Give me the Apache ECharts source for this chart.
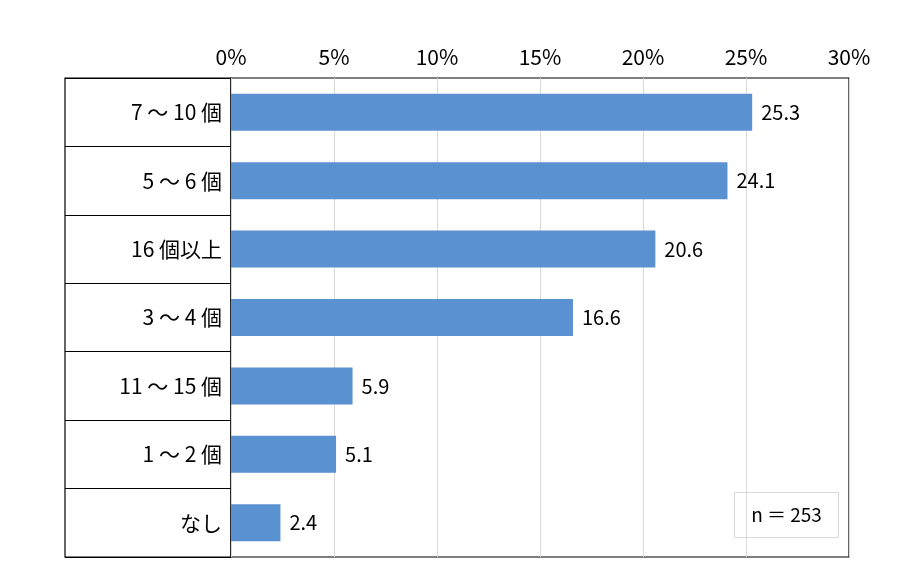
<!DOCTYPE html>
<html>
<head>
<meta charset="utf-8">
<script src="https://cdn.jsdelivr.net/npm/echarts@6/dist/echarts.min.js"></script>
<style>
html, body { margin: 0; padding: 0; background: #fff; }
#chart { width: 900px; height: 583px; }
</style>
</head>
<body>
<div id="chart"></div>
<script>
// カテゴリ（上から順）
var categories = ['7 ～ 10 個', '5 ～ 6 個', '16 個以上', '3 ～ 4 個', '11 ～ 15 個', '1 ～ 2 個', 'なし'];
// 割合(%)
var values = [25.3, 24.1, 20.6, 16.6, 5.9, 5.1, 2.4];
var xTicks = [0, 5, 10, 15, 20, 25, 30];
var sampleSize = 253;

var font = '"Noto Sans CJK JP", "Noto Sans", sans-serif';
var myChart = echarts.init(document.getElementById('chart'), null, { renderer: 'canvas' });

var option = {
	animation: false,
	textStyle: { fontFamily: font },
	grid: [
		{ left: 231, right: 51, top: 78, bottom: 26, show: true, borderColor: '#000', borderWidth: 1.2 }, // 棒グラフ
		{ left: 65, width: 166, top: 78, bottom: 26, show: true, borderColor: '#000', borderWidth: 1.2 } // ラベル枠
	],
	xAxis: [{
		gridIndex: 0,
		type: 'value',
		position: 'top',
		min: xTicks[0],
		max: xTicks[xTicks.length - 1],
		interval: 5,
		axisLine: { show: false },
		axisTick: { show: false },
		axisLabel: { formatter: '{value}%', color: '#000', fontSize: 21, margin: 10, fontFamily: font },
		splitLine: { show: true, lineStyle: { color: '#d9d9d9', width: 1 } }
	}, {
		gridIndex: 1,
		type: 'value',
		show: false
	}],
	yAxis: [{
		gridIndex: 0,
		type: 'category',
		inverse: true,
		data: categories,
		axisLine: { show: false },
		axisTick: { show: false },
		axisLabel: { color: '#000', fontSize: 21, margin: 9, fontFamily: font },
		splitLine: { show: false }
	}, {
		gridIndex: 1,
		type: 'category',
		inverse: true,
		data: categories,
		axisLine: { show: false },
		axisTick: { show: false },
		axisLabel: { show: false },
		splitLine: { show: true, lineStyle: { color: '#000', width: 1.2 } }
	}],
	series: [{
		type: 'bar',
		xAxisIndex: 0,
		yAxisIndex: 0,
		data: values,
		barWidth: 37,
		itemStyle: { color: '#5a91d0' },
		label: {
			show: true,
			position: 'right',
			distance: 9,
			color: '#000',
			fontSize: 20,
			fontFamily: font,
			formatter: function (p) { return p.value.toFixed(1); }
		}
	}],
	graphic: [{
		type: 'group',
		left: 734,
		top: 492,
		children: [{
			type: 'rect',
			shape: { x: 0, y: 0, width: 104, height: 45 },
			style: { fill: '#fff', stroke: '#d9d9d9', lineWidth: 1 }
		}, {
			type: 'text',
			x: 52,
			y: 22.5,
			style: {
				text: 'n ＝ ' + sampleSize,
				fill: '#000',
				font: '19px ' + font,
				align: 'center',
				verticalAlign: 'middle'
			}
		}]
	}]
};
myChart.setOption(option);
</script>
</body>
</html>
